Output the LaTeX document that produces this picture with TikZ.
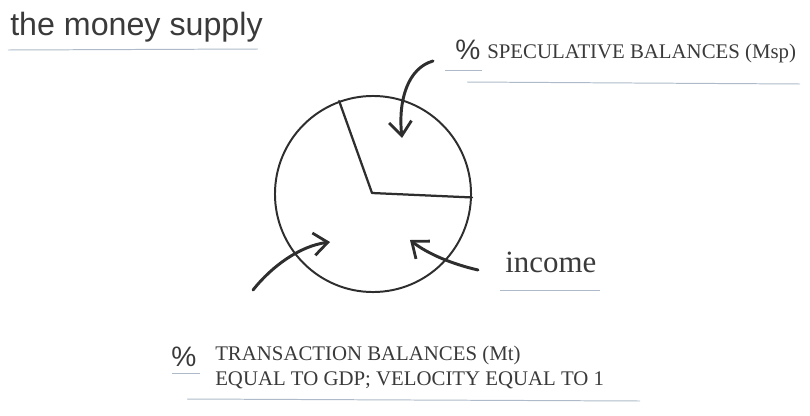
\documentclass[tikz,border=0pt]{standalone}
\usepackage{fontspec}
\setmainfont{Liberation Serif}
\setsansfont{Liberation Sans}
\usepackage{xcolor}
\usetikzlibrary{arrows.meta,positioning,calc}
\definecolor{inkgray}{HTML}{2E2E2E}
\definecolor{textgray}{HTML}{3A3A3A}
\definecolor{rulegray}{HTML}{AEBACA}
\tikzset{
	arrow/.style={-{Straight Barb[length=10pt,width=16pt,line width=2pt]}, line width=2.1pt, draw=inkgray, line cap=round},
	uline/.style={draw=rulegray, line width=0.7pt},
	serif/.style={font=\fontsize{14.8}{17}\selectfont, text=textgray, inner sep=0pt},
	pct/.style={font=\sffamily\fontsize{20}{20}\selectfont, text=textgray, inner sep=0pt}
}
\begin{document}
\begin{tikzpicture}[x=0.025cm, y=-0.025cm,
			pieline/.style={draw=inkgray, line width=1.6pt, line cap=round, line join=round},
			]
			\useasboundingbox (0,0) rectangle (810,415);
			
			%% -- Title
			\node[anchor=base west, inner sep=0pt, text=textgray,
			font=\sffamily\fontsize{22.9}{23}\selectfont] (title) at (10,35)
			{the money supply};
			\draw[uline] (8,50) -- (258,49);
			
			%% -- The pie
			\node[circle, draw=inkgray, line width=1.4pt, minimum size=4.9cm,
			inner sep=0pt] (pie) at (373,194) {};
			\coordinate (hub) at (372,193);
			\draw[pieline] (pie.110) -- (hub) -- (pie.-2);
			
			%% -- Speculative label (top right)
			\node[pct, anchor=base west] (pcta) at (455,59) {\%};
			\node[serif, anchor=base west] (spec) at (487,58)
			{SPECULATIVE BALANCES (Msp)};
			\draw[uline] (445,70) -- (482,70);
			\draw[uline] (467,82) -- (800,84);
			
			%% -- Income label
			\node[anchor=base west, inner sep=0pt, text=textgray,
			font=\fontsize{22}{22}\selectfont] (inc) at (505,272) {income};
			\draw[uline] (500,290) -- (600,290);
			
			%% -- Transaction label (bottom)
			\node[pct, anchor=base west] (pctb) at (171,366) {\%};
			\node[serif, anchor=base west] (trans) at (215,360)
			{TRANSACTION BALANCES (Mt)};
			\node[serif, anchor=base west] (gdp) at (215,385)
			{EQUAL TO GDP; VELOCITY EQUAL TO 1};
			\draw[uline] (172,373) -- (200,373);
			\draw[uline] (187,399) -- (640,401);
			
			%% -- Hand drawn arrows into the slices
			\coordinate (spectail) at (433,61);
			\coordinate (spectip) at (402,138);
			\coordinate (transtail) at (253,290);
			\coordinate (transtip) at (330,242);
			\coordinate (inctail) at (478,270);
			\coordinate (inctip) at (410,240);
			
			\draw[arrow] (spectail) .. controls (408,68) and (398,100) .. (spectip);
			\draw[arrow] (transtail) .. controls (272,266) and (300,246) .. (transtip);
			\draw[arrow] (inctail) .. controls (452,264) and (428,254) .. (inctip);
			
		\end{tikzpicture}
\end{document}
